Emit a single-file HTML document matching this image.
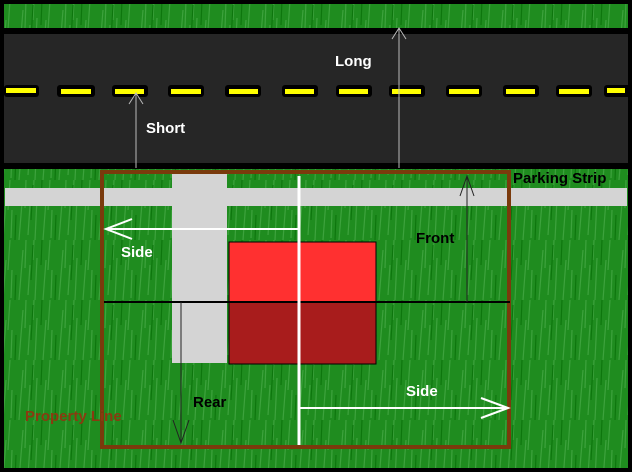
<!DOCTYPE html>
<html><head><meta charset="utf-8"><style>
html,body{margin:0;padding:0;background:#000}
svg{display:block}
text{font-family:"Liberation Sans",sans-serif;font-weight:bold;font-size:15px}
</style></head><body>
<svg width="632" height="472" viewBox="0 0 632 472" xmlns="http://www.w3.org/2000/svg">
<defs>
<pattern id="grass" width="40" height="60" patternUnits="userSpaceOnUse">
<rect width="40" height="60" fill="#1f8c1f"/>
<path d="M3 60 L6 20 M11 58 L12 30 M19 60 L23 10 M28 55 L30 25 M35 60 L37 18 M8 30 L10 0 M25 28 L26 0 M33 20 L34 0" stroke="#44a844" stroke-width="1.2" opacity="0.8"/>
<path d="M15 60 L16 35 M31 40 L33 5 M1 25 L2 0" stroke="#0d760d" stroke-width="1.2"/>
</pattern>
</defs>
<rect width="632" height="472" fill="#000"/>
<rect x="4" y="4" width="624" height="24" fill="url(#grass)"/>
<rect x="4" y="34" width="624" height="129" fill="#262626"/>
<rect x="4" y="169" width="624" height="299" fill="url(#grass)"/>
<g fill="#000">
<rect x="4" y="85" width="35" height="12" rx="3"/>
<rect x="57" y="85" width="38" height="12" rx="3"/>
<rect x="112" y="85" width="36" height="12" rx="3"/>
<rect x="168" y="85" width="36" height="12" rx="3"/>
<rect x="225" y="85" width="36" height="12" rx="3"/>
<rect x="282" y="85" width="36" height="12" rx="3"/>
<rect x="336" y="85" width="36" height="12" rx="3"/>
<rect x="389" y="85" width="36" height="12" rx="3"/>
<rect x="446" y="85" width="36" height="12" rx="3"/>
<rect x="503" y="85" width="36" height="12" rx="3"/>
<rect x="556" y="85" width="36" height="12" rx="3"/>
<rect x="604" y="85" width="28" height="12" rx="3"/>
</g>
<g fill="#ffff00">
<rect x="6" y="88" width="30" height="5"/>
<rect x="61" y="89" width="30" height="5"/>
<rect x="115" y="89" width="29" height="5"/>
<rect x="171" y="89" width="30" height="5"/>
<rect x="229" y="89" width="29" height="5"/>
<rect x="285" y="89" width="29" height="5"/>
<rect x="339" y="89" width="29" height="5"/>
<rect x="392" y="89" width="29" height="5"/>
<rect x="449" y="89" width="30" height="5"/>
<rect x="506" y="89" width="29" height="5"/>
<rect x="559" y="89" width="30" height="5"/>
<rect x="607" y="88" width="18" height="5"/>
</g>
<rect x="5" y="188" width="622" height="18" fill="#d4d4d4"/>
<rect x="172" y="172" width="55" height="191" fill="#d4d4d4"/>
<rect x="229" y="242" width="147" height="60" fill="#ff3030" stroke="#000" stroke-width="1"/>
<rect x="229" y="302" width="147" height="62" fill="#a81c1c" stroke="#000" stroke-width="1"/>
<rect x="102" y="172" width="407" height="275" fill="none" stroke="#7a3a0c" stroke-width="4"/>
<line x1="104" y1="302" x2="510" y2="302" stroke="#000" stroke-width="2"/>
<line x1="299" y1="176" x2="299" y2="445" stroke="#fff" stroke-width="3"/>
<g stroke="#fff" stroke-width="2" fill="none">
<line x1="106" y1="229" x2="298" y2="229"/>
<polyline points="132,219 106,229 132,239"/>
<line x1="300" y1="408" x2="508" y2="408"/>
<polyline points="481,398 508,408 481,418"/>
</g>
<g stroke="#222" stroke-width="1" fill="none">
<line x1="467" y1="302" x2="467" y2="176"/>
<polyline points="460,196 467,176 474,196"/>
<line x1="181" y1="302" x2="181" y2="443"/>
<polyline points="173,420 181,443 189,420"/>
</g>
<g stroke="#bbb" stroke-width="1" fill="none">
<line x1="136" y1="168" x2="136" y2="94"/>
<polyline points="129,104 136,93 143,104"/>
<line x1="399" y1="168" x2="399" y2="28"/>
<polyline points="392,39 399,28 406,39"/>
</g>
<text x="335" y="66" fill="#fff">Long</text>
<text x="146" y="133" fill="#fff">Short</text>
<text x="121" y="257" fill="#fff">Side</text>
<text x="406" y="396" fill="#fff">Side</text>
<text x="416" y="243" fill="#000">Front</text>
<text x="193" y="407" fill="#000">Rear</text>
<text x="513" y="183" fill="#000" font-size="14">Parking Strip</text>
<text x="25" y="421" fill="#8a3a10">Property Line</text>
</svg>
</body></html>
